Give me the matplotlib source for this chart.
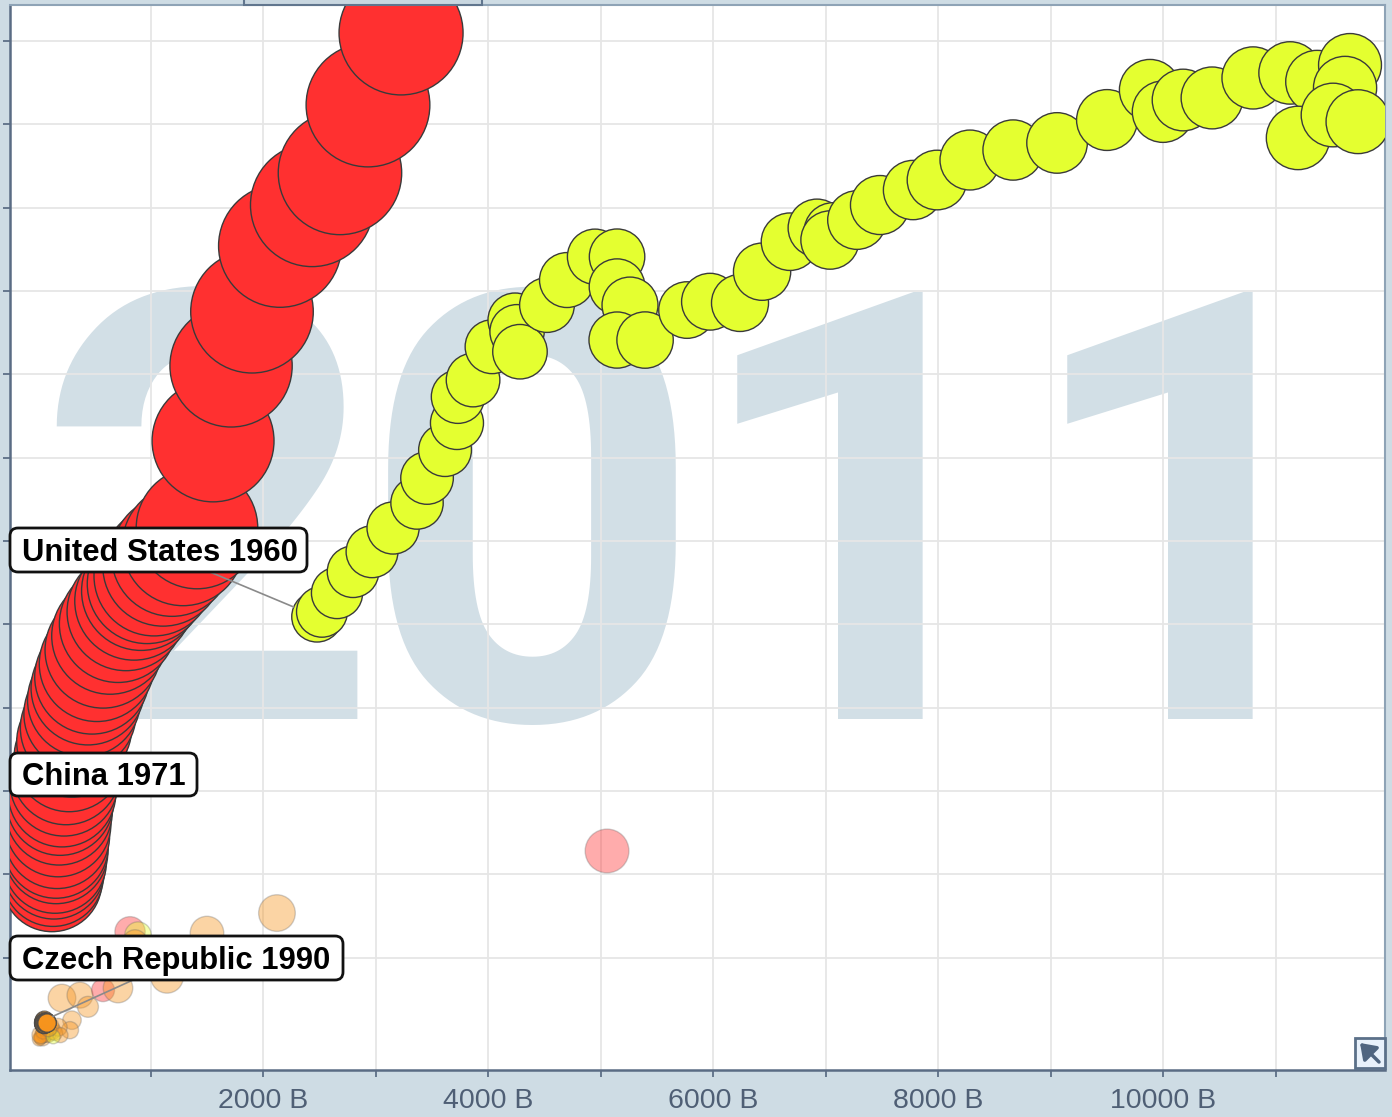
import numpy as np
import matplotlib
matplotlib.use('Agg')
import matplotlib.pyplot as plt
from matplotlib.patches import FancyBboxPatch, Rectangle, FancyArrowPatch
from matplotlib.transforms import IdentityTransform

plt.rcParams['font.family'] = ['Liberation Sans', 'DejaVu Sans']

W, H = 1392, 1117

year = '2011'

# China 1971-2011: GDP (constant 2000 US$, billions), energy use (Mtoe), population (millions)
china_gdp = [124, 133, 142, 151, 160, 160, 169, 178, 187, 196, 213, 231, 249, 276, 302, 338,
             373, 409, 444, 480, 524, 578, 640, 711, 782, 853, 916, 969, 1031, 1111, 1191,
             1289, 1413, 1556, 1716, 1902, 2151, 2436, 2684, 2933, 3227]
china_energy = [382, 396, 415, 430, 454, 468, 492, 521, 550, 574, 595, 622, 650, 682, 718, 751,
                785, 818, 847, 874, 905, 938, 972, 1001, 1030, 1056, 1080, 1097, 1116, 1140,
                1164, 1190, 1231, 1440, 1620, 1750, 1908, 2006, 2083, 2246, 2419]
china_pop = [841, 862, 882, 900, 916, 931, 943, 956, 969, 981, 994, 1009, 1023, 1036, 1051,
             1067, 1084, 1101, 1118, 1135, 1151, 1165, 1178, 1192, 1205, 1218, 1230, 1242,
             1253, 1263, 1272, 1280, 1288, 1296, 1304, 1311, 1318, 1325, 1331, 1338, 1344]

# United States 1960-2011
us_gdp = [2480, 2524, 2658, 2800, 2969, 3156, 3369, 3458, 3618, 3724,
          3733, 3867, 4036, 4240, 4258, 4284, 4524, 4702, 4951, 5147,
          5147, 5262, 5147, 5396, 5769, 5973, 6240, 6436, 6684, 6924,
          7067, 7040, 7280, 7484, 7778, 7991, 8284, 8667, 9058, 9502,
          9884, 10000, 10178, 10436, 10800, 11129, 11369, 11662, 11618, 11200,
          11511, 11733]
us_energy = [1018, 1030, 1075, 1126, 1174, 1231, 1291, 1351, 1418, 1483,
             1546, 1586, 1666, 1730, 1702, 1654, 1766, 1826, 1882, 1882,
             1810, 1766, 1682, 1682, 1754, 1774, 1771, 1846, 1918, 1951,
             1942, 1922, 1970, 2006, 2042, 2066, 2114, 2138, 2155, 2210,
             2282, 2230, 2258, 2263, 2311, 2323, 2302, 2342, 2287, 2167,
             2222, 2206]
us_pop = [180.7, 183.7, 186.5, 189.2, 191.9, 194.3, 196.6, 198.7, 200.7, 202.7,
          205.1, 207.7, 209.9, 211.9, 213.9, 216.0, 218.0, 220.2, 222.6, 225.1,
          227.2, 229.5, 231.7, 233.8, 235.8, 237.9, 240.1, 242.3, 244.5, 246.8,
          249.6, 253.0, 256.5, 259.9, 263.1, 266.3, 269.4, 272.7, 275.9, 279.0,
          282.2, 285.0, 287.6, 290.1, 292.8, 295.5, 298.4, 301.2, 304.1, 306.8,
          309.3, 311.6]

# Czech Republic 1990-2011
cz_gdp = [57, 50, 49, 49, 50, 53, 55, 55, 54, 55, 57, 59, 61, 63, 66, 70, 75, 79, 81, 77, 79, 81]
cz_energy = [50, 47, 44, 43, 41, 41, 42, 42, 41, 39, 40, 41, 41, 44, 45, 45, 45, 45, 44, 42, 43, 43]
cz_pop = [10.4] * 22

# other countries in 2011 (faded)
other_gdp = [2124, 5058, 818, 889, 862, 1502, 1147, 213, 373, 578, 711, 444, 302, 284,
             30, 60, 40, 120, 90, 20, 150, 180, 110, 70, 10, 45, 200, 25, 135, 95]
other_energy = [307, 456, 262, 254, 238, 259, 154, 103, 110, 122, 127, 82, 50, 26,
                12, 18, 8, 25, 15, 6, 20, 33, 35, 28, 4, 22, 14, 15, 10, 30]
other_pop = [81.8, 127.8, 49.8, 34.3, 26, 65.3, 60.7, 38.5, 32, 22.3, 46.2, 16.7, 11.0, 8.4,
             4.4, 9.9, 7.3, 10.8, 5.4, 2.0, 5.6, 9.5, 8.4, 5.4, 3.0, 4.0, 4.9, 9.5, 3.5, 7.0]
other_region = ['eur', 'eap', 'eap', 'nam', 'eur', 'eur', 'eur', 'eur', 'eur', 'eap', 'eur', 'eur',
                'eur', 'eur', 'eur', 'eur', 'eur', 'eur', 'eur', 'eur', 'eur', 'eur', 'eur', 'eur',
                'eur', 'eur', 'eur', 'eur', 'nam', 'eur']

region_color = {'eap': '#ff3030', 'nam': '#e4ff30', 'eur': '#f7941d'}


def radius(pop):
    # bubble radius in pixels, area grows with population
    return 4 + 58 * np.sqrt(np.asarray(pop, dtype=float) / 1344.0)


def area(pop):
    return (2 * radius(pop) * 0.72) ** 2


fig = plt.figure(figsize=(W / 100, H / 100), dpi=100)
fig.patch.set_facecolor('#cedce4')
ax = fig.add_axes([10 / W, 47 / H, 1375 / W, 1065 / H])
ax.set_xlim(-249, 11973)
ax.set_ylim(-69.6, 2486)
ax.set_axisbelow(True)

# watermark year, one digit at a time (pixel x of each glyph's origin)
for ch, px in zip(year, [35, 360, 688, 1018]):
    ax.text((px - 10) / 1375, 351 / 1065, ch, transform=ax.transAxes, fontsize=432,
            fontweight='bold', family='Roboto', color='#d2dfe6', ha='left', va='baseline',
            zorder=0.2)

ax.set_xticks(np.arange(1000, 11001, 1000))
ax.set_xticklabels(['%d B' % v if v % 2000 == 0 else '' for v in range(1000, 11001, 1000)])
ax.set_yticks(np.arange(200, 2401, 200))
ax.set_yticklabels([])
ax.grid(True, color='#e6e6e6', lw=1.3)
ax.tick_params(direction='out', length=5, width=1.3, color='#5d6f86', labelsize=20.5,
               labelcolor='#4f5f75', pad=8)
for s in ['left', 'bottom']:
    ax.spines[s].set_color('#5a6c84')
    ax.spines[s].set_linewidth(1.8)
for s in ['top', 'right']:
    ax.spines[s].set_color('#8ea3b6')
    ax.spines[s].set_linewidth(1.5)

# faded bubbles
fc = [matplotlib.colors.to_rgba(region_color[r], 0.4) for r in other_region]
ax.scatter(other_gdp, other_energy, s=area(other_pop), c=fc, edgecolors=(0.4, 0.4, 0.4, 0.3),
           linewidths=1, zorder=2)

# trails
ax.scatter(cz_gdp, cz_energy, s=area(cz_pop), c=region_color['eur'], alpha=0.8,
           edgecolors='#4a4a4a', linewidths=0.8, zorder=3)
ax.scatter(china_gdp, china_energy, s=area(china_pop), c=region_color['eap'],
           edgecolors='#3a3a3a', linewidths=1.0, zorder=3)
ax.scatter(us_gdp, us_energy, s=area(us_pop), c=region_color['nam'],
           edgecolors='#3a3a3a', linewidths=1.0, zorder=3)

# leader lines
ax.annotate('', xy=(us_gdp[0], us_energy[0]), xytext=(210, H - 572), textcoords='figure pixels',
            arrowprops=dict(arrowstyle='-', color='#8a8a8a', lw=1.2, shrinkA=0,
                            shrinkB=float(radius(us_pop[0])) * 0.72), zorder=6, annotation_clip=False)
ax.annotate('', xy=(cz_gdp[0], cz_energy[0]), xytext=(133, H - 980), textcoords='figure pixels',
            arrowprops=dict(arrowstyle='-', color='#8a8a8a', lw=1.2, shrinkA=0,
                            shrinkB=float(radius(cz_pop[0])) * 0.72), zorder=6, annotation_clip=False)

# labels
tags = [('United States 1960', 10, 528, 307, 572),
        ('China 1971', 10, 753, 197, 796),
        ('Czech Republic 1990', 10, 936, 343, 980)]
for txt, x0, y0, x1, y1 in tags:
    box = FancyBboxPatch((x0, H - y1), x1 - x0, y1 - y0, boxstyle='round,pad=0,rounding_size=8',
                         transform=IdentityTransform(), fc='white', ec='#111111', lw=2, zorder=10)
    fig.add_artist(box)
    fig.text((x0 + 12) / W, 1 - (y1 - 11) / H, txt, fontsize=22.3, fontweight='bold',
             color='black', ha='left', va='baseline', zorder=11)

# top widget edge
fig.add_artist(Rectangle((244, H - 5), 238, 10, transform=IdentityTransform(), fc='#c9d7e0',
                         ec='#61768e', lw=1.5, zorder=10))

# zoom-out icon
fig.add_artist(Rectangle((1355, H - 1068), 30, 30, transform=IdentityTransform(), fc='#e8f1fb',
                         ec='#5b7089', lw=2, zorder=10))
fig.add_artist(FancyArrowPatch((1379, H - 1062), (1360, H - 1043), transform=IdentityTransform(),
                               arrowstyle='-|>,head_length=0.5,head_width=0.35', mutation_scale=18,
                               lw=2.5, color='#4f6580', shrinkA=0, shrinkB=0, zorder=11))

plt.savefig('out.png', dpi=100, facecolor=fig.get_facecolor())
